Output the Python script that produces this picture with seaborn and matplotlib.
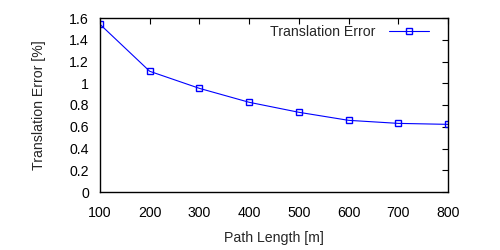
import matplotlib
matplotlib.use("Agg")
import matplotlib.pyplot as plt
import seaborn as sns
import pandas as pd

path_length = [100, 200, 300, 400, 500, 600, 700, 800]
translation_error = [1.542, 1.11, 0.953, 0.825, 0.733, 0.659, 0.631, 0.622]
x_ticks = [100, 200, 300, 400, 500, 600, 700, 800]
y_ticks = [0, 0.2, 0.4, 0.6, 0.8, 1, 1.2, 1.4, 1.6]
y_tick_labels = ["0", "0.2", "0.4", "0.6", "0.8", "1", "1.2", "1.4", "1.6"]

sns.set_theme(style="white")
plt.rcParams['font.family'] = ['Liberation Sans', 'DejaVu Sans']

df = pd.DataFrame({"Path Length [m]": path_length, "Translation Error [%]": translation_error})

fig = plt.figure(figsize=(5, 2.5), dpi=100)
ax = fig.add_axes([0.2, 0.232, 0.696, 0.696])

fs = 10.2
sns.lineplot(data=df, x="Path Length [m]", y="Translation Error [%]", ax=ax,
             color="#0000ff", linewidth=0.8, marker="s", markersize=5,
             markerfacecolor="none", markeredgecolor="#0000ff", markeredgewidth=1.0,
             label="Translation Error")

ax.set_xlim(100, 800)
ax.set_ylim(0, 1.6)
ax.set_xticks(x_ticks)
ax.set_yticks(y_ticks)
ax.set_yticklabels(y_tick_labels)
ax.tick_params(direction="in", length=4, width=0.8, top=True, right=True,
               labelsize=fs, colors="black")
ax.tick_params(axis="y", pad=8)
ax.tick_params(axis="x", pad=10)
for s in ax.spines.values():
    s.set_color("black")
    s.set_linewidth(1.0)
ax.set_xlabel("Path Length [m]", fontsize=fs, labelpad=8)
ax.set_ylabel("Translation Error [%]", fontsize=fs, labelpad=17)

leg = ax.legend(loc="upper right", frameon=False, fontsize=fs, markerfirst=False,
                handlelength=2.8, borderaxespad=0.1, handletextpad=1.0,
                bbox_to_anchor=(0.965, 1.0))

fig.savefig("out.png", dpi=100)
